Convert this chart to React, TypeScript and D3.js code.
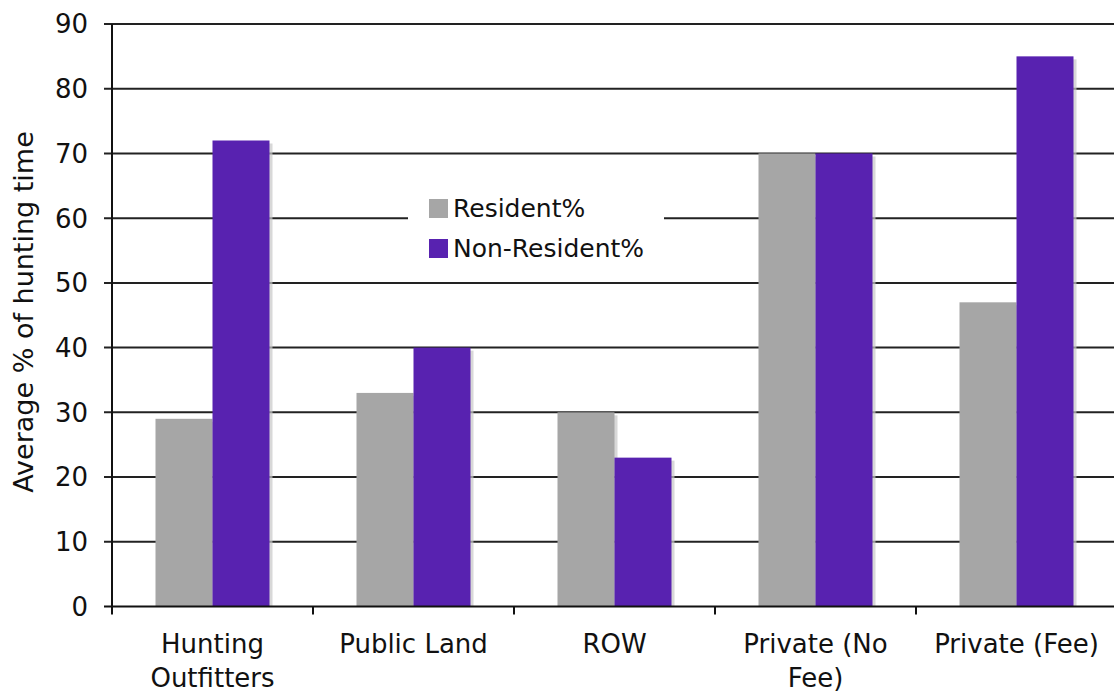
import React, { useEffect, useRef } from "react";
import * as d3 from "d3";

const width = 1114;
const height = 694;

const categories = [
  ["Hunting", "Outfitters"],
  ["Public Land"],
  ["ROW"],
  ["Private (No", "Fee)"],
  ["Private (Fee)"],
];
const seriesNames = ["Resident%", "Non-Resident%"];
const resident = [29, 33, 30, 70, 47];
const nonResident = [72, 40, 23, 70, 85];
const yTicks = [0, 10, 20, 30, 40, 50, 60, 70, 80, 90];
const colors = ["#a6a6a6", "#5822b0"];

const font = "DejaVu Sans, Verdana, sans-serif";

export default function App() {
  const ref = useRef<SVGSVGElement>(null);

  useEffect(() => {
    const svg = d3.select(ref.current);
    svg.selectAll("*").remove();

    const left = 112,
      top = 24,
      bottom = 606.5;
    const bandW = 201;

    const x = d3
      .scaleBand<number>()
      .domain(d3.range(categories.length))
      .range([left, left + bandW * categories.length]);
    const y = d3.scaleLinear().domain([0, 90]).range([bottom, top]);

    // gridlines
    svg
      .append("g")
      .selectAll("line")
      .data(yTicks.filter((d) => d > 0))
      .enter()
      .append("line")
      .attr("x1", left - 8)
      .attr("x2", width)
      .attr("y1", (d) => y(d))
      .attr("y2", (d) => y(d))
      .attr("stroke", "#222")
      .attr("stroke-width", 2);

    // y tick labels
    svg
      .append("g")
      .selectAll("text")
      .data(yTicks)
      .enter()
      .append("text")
      .attr("x", left - 24)
      .attr("y", (d) => y(d))
      .attr("dy", "0.36em")
      .attr("text-anchor", "end")
      .attr("font-family", font)
      .attr("font-size", 26)
      .attr("fill", "#111")
      .text((d) => d);

    svg
      .append("text")
      .attr("transform", `translate(33,312) rotate(-90)`)
      .attr("text-anchor", "middle")
      .attr("font-family", font)
      .attr("font-size", 27)
      .attr("fill", "#111")
      .text("Average % of hunting time");

    const barW = 57;
    const values = [resident, nonResident];
    const groups = svg.append("g");
    values.forEach((vals, s) => {
      // shadow
      groups
        .append("g")
        .selectAll("rect")
        .data(vals)
        .enter()
        .append("rect")
        .attr("x", (d, i) => x(i)! + bandW / 2 - barW + s * barW + 3)
        .attr("y", (d) => y(d) + 3)
        .attr("width", barW)
        .attr("height", (d) => bottom - y(d) - 3)
        .attr("fill", "#c8c8c8")
        .attr("opacity", 0.7);
    });
    values.forEach((vals, s) => {
      groups
        .append("g")
        .selectAll("rect")
        .data(vals)
        .enter()
        .append("rect")
        .attr("x", (d, i) => x(i)! + bandW / 2 - barW + s * barW)
        .attr("y", (d) => y(d))
        .attr("width", barW)
        .attr("height", (d) => bottom - y(d))
        .attr("fill", colors[s]);
    });

    // axes
    svg
      .append("line")
      .attr("x1", left)
      .attr("x2", left)
      .attr("y1", top)
      .attr("y2", bottom + 8)
      .attr("stroke", "#111")
      .attr("stroke-width", 2);
    svg
      .append("line")
      .attr("x1", left - 8)
      .attr("x2", width)
      .attr("y1", bottom)
      .attr("y2", bottom)
      .attr("stroke", "#111")
      .attr("stroke-width", 2);
    svg
      .append("g")
      .selectAll("line")
      .data(d3.range(1, categories.length))
      .enter()
      .append("line")
      .attr("x1", (d) => x(d)!)
      .attr("x2", (d) => x(d)!)
      .attr("y1", bottom)
      .attr("y2", bottom + 8)
      .attr("stroke", "#111")
      .attr("stroke-width", 2);

    // category labels
    const cat = svg
      .append("g")
      .selectAll("text")
      .data(categories)
      .enter()
      .append("text")
      .attr("text-anchor", "middle")
      .attr("font-family", font)
      .attr("font-size", 26)
      .attr("fill", "#111");
    cat
      .selectAll("tspan")
      .data((d, i) => d.map((t) => ({ t, i })))
      .enter()
      .append("tspan")
      .attr("x", (d) => x(d.i)! + bandW / 2)
      .attr("y", (d, j) => 653 + j * 34)
      .text((d) => d.t);

    // legend
    const lg = svg.append("g");
    lg.append("rect")
      .attr("x", 408)
      .attr("y", 186)
      .attr("width", 256)
      .attr("height", 88)
      .attr("fill", "#fff");
    seriesNames.forEach((n, i) => {
      lg.append("rect")
        .attr("x", 429)
        .attr("y", 199 + i * 40)
        .attr("width", 19)
        .attr("height", 19)
        .attr("fill", colors[i]);
      lg.append("text")
        .attr("x", 453)
        .attr("y", 217 + i * 40)
        .attr("font-family", font)
        .attr("font-size", 25)
        .attr("fill", "#111")
        .text(n);
    });
  }, []);

  return (
    <svg
      ref={ref}
      width={width}
      height={height}
      style={{ position: "absolute", left: 0, top: 0, background: "#fff" }}
    />
  );
}
